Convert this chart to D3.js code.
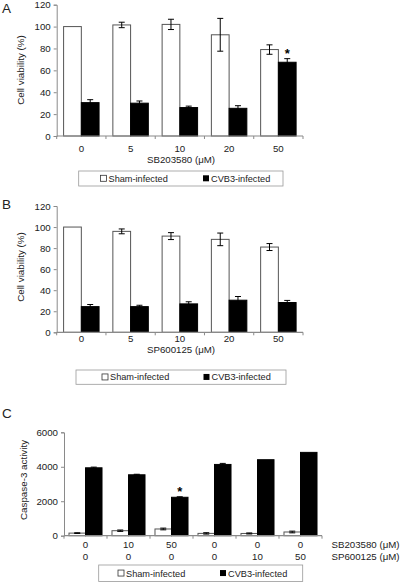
<!DOCTYPE html>
<html><head><meta charset="utf-8">
<script src="https://cdn.jsdelivr.net/npm/d3@7"></script>
<style>body{margin:0;background:#fff}svg{display:block;font-family:"Liberation Sans",Arial,sans-serif}</style>
</head><body>
<svg id="c" width="400" height="583"></svg>
<script>
const concA = ["0","5","10","20","50"];
const shamA = [100,101.5,102,92.5,79];
const shamAErr = [0,2.5,4.7,15,4.3];
const cvbA = [30.5,30,26,25.3,67.4];
const cvbAErr = [2.7,2,1.3,2.4,3.3];

const concB = ["0","5","10","20","50"];
const shamB = [100,95.9,91.4,88.3,81];
const shamBErr = [0,2.3,3.3,6,3.3];
const cvbB = [24.4,24.4,27,30.5,28.3];
const cvbBErr = [2,1.3,2,3.5,2];

const sbC = ["0","10","50","0","0","0"];
const spC = ["0","0","0","0","10","50"];
const shamC = [150,290,390,134,130,215];
const shamCErr = [20,40,50,40,30,50];
const cvbC = [3940,3535,2230,4135,4410,4835];
const cvbCErr = [40,30,30,60,0,0];

const yTicksAB = [0,20,40,60,80,100,120];
const yTicksC = [0,2000,4000,6000];
const legendLabels = ["Sham-infected","CVB3-infected"];

const svg = d3.select("#c");
const axisCol = "#8a8a8a", textCol = "#222";

function panel(o){
  const g = svg.append("g");
  const x = d3.scaleBand().domain(d3.range(o.sham.length)).range(o.xr).padding(0);
  const y = d3.scaleLinear().domain(o.yd).range(o.yr);
  const bw = x.bandwidth()*o.bf;
  // bars
  o.sham.forEach((v,i)=>{
    const cx = x(i)+x.bandwidth()/2;
    g.append("rect").attr("x",cx-bw).attr("y",y(v)).attr("width",bw).attr("height",y(0)-y(v))
      .attr("fill","#fff").attr("stroke","#555").attr("stroke-width",1);
    if(o.shamErr[i]>0) errbar(g,cx-bw/2,y(v+o.shamErr[i]),y(v-o.shamErr[i]));
    const w = o.cvb[i];
    g.append("rect").attr("x",cx).attr("y",y(w)).attr("width",bw).attr("height",y(0)-y(w))
      .attr("fill","#000").attr("stroke","#000").attr("stroke-width",1);
    if(o.cvbErr[i]>0) errbar(g,cx+bw/2,y(w+o.cvbErr[i]),y(w-o.cvbErr[i]));
    if(o.star===i){
      g.append("text").attr("x",cx+bw/2).attr("y",y(w+o.cvbErr[i])-1).attr("text-anchor","middle")
        .attr("font-size",13).attr("font-weight","bold").attr("fill","#000").text("*");
    }
  });
  // y axis
  const ya = d3.axisLeft(y).tickValues(o.yt).tickSize(3).tickPadding(3).tickFormat(d3.format("d"));
  const yg = g.append("g").attr("transform",`translate(${o.xr[0]},0)`).call(ya);
  yg.select(".domain").attr("stroke",axisCol);
  yg.selectAll(".tick line").attr("stroke",axisCol);
  yg.selectAll("text").attr("font-size",9.7).attr("fill",textCol).attr("font-family","Liberation Sans, Arial, sans-serif");
  // x axis line
  g.append("line").attr("x1",o.xr[0]).attr("x2",o.xr[1]).attr("y1",y(0)).attr("y2",y(0)).attr("stroke",axisCol).attr("stroke-width",1.2);
  d3.range(o.sham.length+1).forEach(i=>{
    const xx = o.xr[0]+i*x.bandwidth();
    g.append("line").attr("x1",xx).attr("x2",xx).attr("y1",y(0)).attr("y2",y(0)+3).attr("stroke",axisCol);
  });
  // x labels
  o.rows.forEach((row,r)=>{
    row.labels.forEach((t,i)=>{
      g.append("text").attr("x",x(i)+x.bandwidth()/2).attr("y",row.y).attr("text-anchor","middle")
        .attr("font-size",9.7).attr("fill",textCol).text(t);
    });
    if(row.name) g.append("text").attr("x",o.xr[1]+9.5).attr("y",row.y).attr("font-size",9.7).attr("fill",textCol).text(row.name);
  });
  if(o.xtitle) g.append("text").attr("x",o.xtx).attr("y",o.xty).attr("text-anchor","middle").attr("font-size",9.7).attr("fill",textCol).text(o.xtitle);
  // y title
  g.append("text").attr("transform",`translate(${o.ytx},${o.yty}) rotate(-90)`).attr("text-anchor","middle")
    .attr("font-size",9.8).attr("fill",textCol).text(o.ytitle);
  // panel letter
  g.append("text").attr("x",2).attr("y",o.letY).attr("font-size",13.5).attr("fill",textCol).text(o.letter);
  // legend
  const L = o.leg;
  g.append("rect").attr("x",L.x).attr("y",L.y).attr("width",L.w).attr("height",L.h).attr("fill","#fff").attr("stroke","#999").attr("stroke-width",0.8);
  const ty = L.y+L.h/2;
  g.append("rect").attr("x",L.s1).attr("y",ty-3.2).attr("width",6).attr("height",6).attr("fill","#fff").attr("stroke","#333").attr("stroke-width",0.8);
  g.append("text").attr("x",L.s1+8).attr("y",ty+3.3).attr("font-size",9.2).attr("fill",textCol).text(legendLabels[0]);
  g.append("rect").attr("x",L.s2).attr("y",ty-3.2).attr("width",6).attr("height",6).attr("fill","#000");
  g.append("text").attr("x",L.s2+8).attr("y",ty+3.3).attr("font-size",9.2).attr("fill",textCol).text(legendLabels[1]);
}
function errbar(g,cx,y1,y2){
  g.append("line").attr("x1",cx).attr("x2",cx).attr("y1",y1).attr("y2",y2).attr("stroke","#000").attr("stroke-width",1);
  [y1,y2].forEach(yy=>g.append("line").attr("x1",cx-3).attr("x2",cx+3).attr("y1",yy).attr("y2",yy).attr("stroke","#000").attr("stroke-width",1));
}

panel({sham:shamA,shamErr:shamAErr,cvb:cvbA,cvbErr:cvbAErr,xr:[56.7,303],yd:[0,120],yr:[136,4.7],bf:0.36,yt:yTicksAB,
  rows:[{labels:concA,y:151.5}],xtitle:"SB203580 (\u03bcM)",xtx:181,xty:162.5,ytitle:"Cell viability (%)",ytx:24,yty:70,
  letter:"A",letY:13,star:4,leg:{x:78.7,y:171,w:204.3,h:15,s1:100.5,s2:203}});
panel({sham:shamB,shamErr:shamBErr,cvb:cvbB,cvbErr:cvbBErr,xr:[56.7,303],yd:[0,120],yr:[332.3,206],bf:0.36,yt:yTicksAB,
  rows:[{labels:concB,y:341.7}],xtitle:"SP600125 (\u03bcM)",xtx:181,xty:353,ytitle:"Cell viability (%)",ytx:24,yty:267,
  letter:"B",letY:209,star:-1,leg:{x:76,y:370,w:210,h:14.3,s1:102,s2:203.5}});
panel({sham:shamC,shamErr:shamCErr,cvb:cvbC,cvbErr:cvbCErr,xr:[64,322],yd:[0,6000],yr:[535.7,432.3],bf:0.384,yt:yTicksC,
  rows:[{labels:sbC,y:547.7,name:"SB203580 (\u03bcM)"},{labels:spC,y:560,name:"SP600125 (\u03bcM)"}],
  ytitle:"Caspase-3 activity",ytx:27,yty:480,letter:"C",letY:418,star:2,leg:{x:98.7,y:565,w:204,h:16.5,s1:118,s2:220}});
</script>
</body></html>
